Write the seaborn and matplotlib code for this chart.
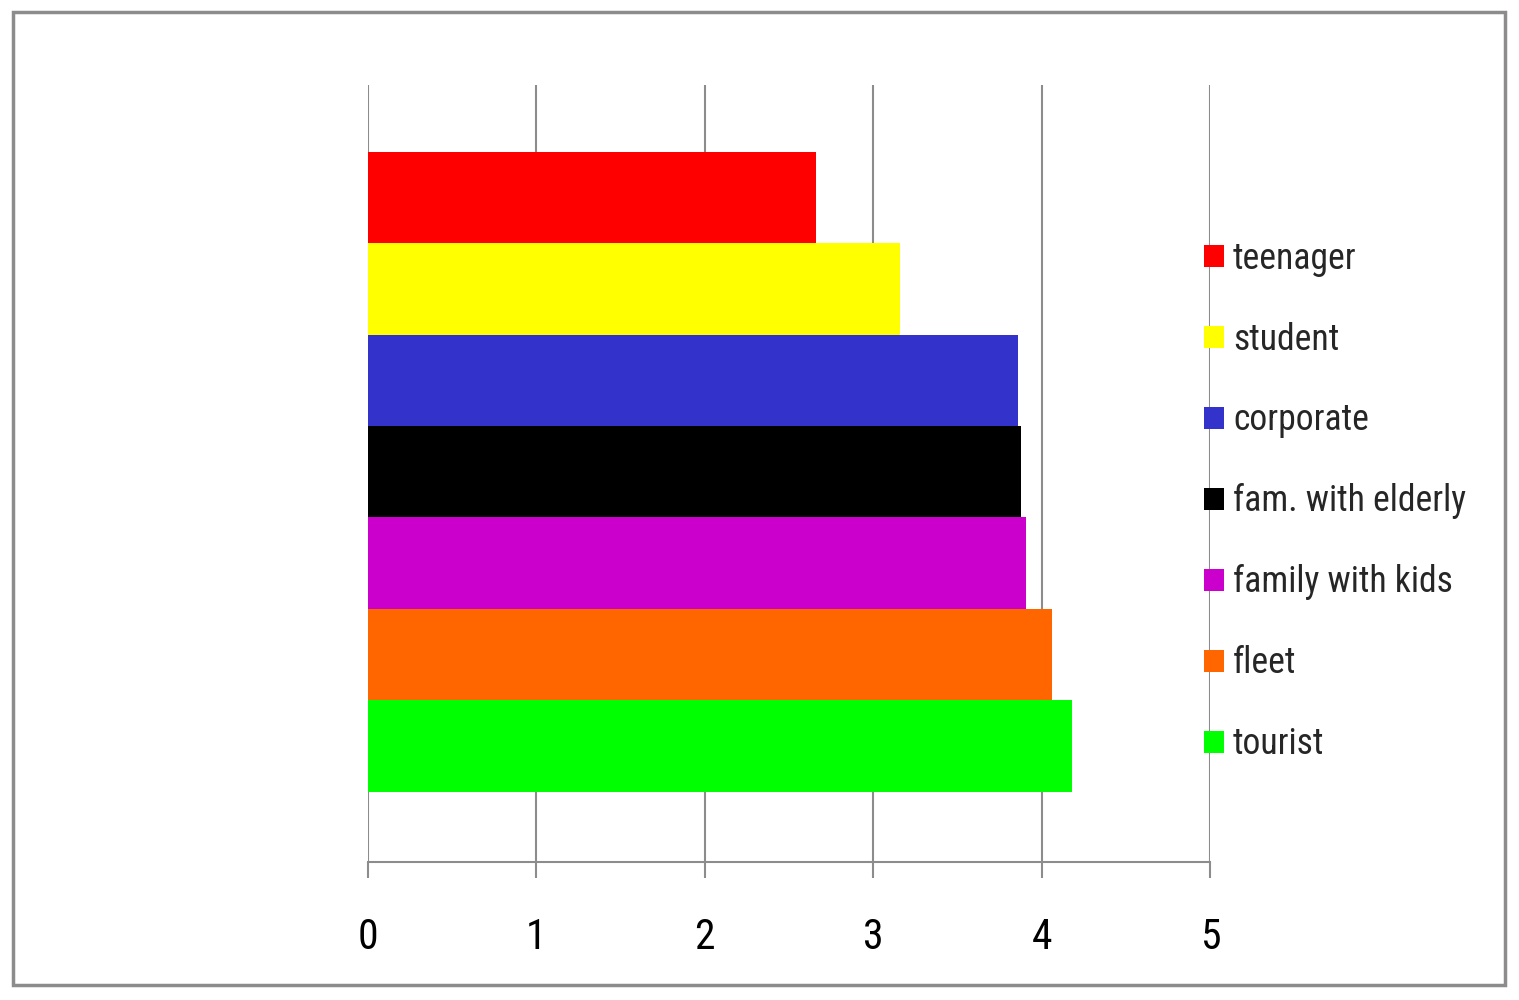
import matplotlib
matplotlib.use("Agg")
import matplotlib.pyplot as plt
from matplotlib import font_manager
from matplotlib.patches import Patch, Rectangle
import seaborn as sns
import pandas as pd

# Data
segments = ['teenager', 'student', 'corporate', 'fam. with elderly',
            'family with kids', 'fleet', 'tourist']
scores = [2.66, 3.16, 3.86, 3.88, 3.91, 4.06, 4.18]
colors = ['#FF0000', '#FFFF00', '#3333CC', '#000000', '#CC00CC', '#FF6600', '#00FF00']
xticks = [0, 1, 2, 3, 4, 5]

sns.set_style('white')
names = {f.name for f in font_manager.fontManager.ttflist}
font = next((f for f in ['Liberation Sans Narrow', 'Roboto Condensed', 'Liberation Sans']
             if f in names), 'DejaVu Sans')
plt.rcParams['font.family'] = [font, 'DejaVu Sans']

df = pd.DataFrame({'segment': segments, 'score': scores})

fig = plt.figure(figsize=(15.19, 10), dpi=100)
ax = fig.add_axes([368 / 1519, 1 - 862 / 1000, (1210 - 368) / 1519, (862 - 85) / 1000])

sns.barplot(data=df, y='segment', x='score', hue='segment', palette=colors,
            order=segments, hue_order=segments, width=1.0, dodge=False,
            legend=False, saturation=1, linewidth=0, edgecolor='none',
            ax=ax, zorder=3)

grid_c = '#8c8c8c'
ax.set_xlim(0, 5)
ax.set_ylim(6.5 + 0.77, -0.5 - 0.73)
ax.set_xticks(xticks)
ax.set_xticklabels([str(t) for t in xticks])
ax.set_yticks([])
ax.set_xlabel('')
ax.set_ylabel('')
ax.grid(axis='x', color=grid_c, linewidth=1.5, zorder=0)
ax.set_axisbelow(True)
for s in ['top', 'right', 'left']:
    ax.spines[s].set_visible(False)
ax.spines['bottom'].set_color(grid_c)
ax.spines['bottom'].set_linewidth(1.5)
ax.tick_params(axis='x', direction='out', length=11.5, width=1.5, color=grid_c,
               pad=28, labelsize=30, labelcolor='black', bottom=True)

handles = [Patch(facecolor=c, edgecolor='none', label=l) for c, l in zip(colors, segments)]
leg = ax.legend(handles=handles, loc='center left', bbox_to_anchor=(0.993, 0.464),
                frameon=False, fontsize=25.7, handlelength=0.56, handleheight=0.56,
                handletextpad=0.25, labelspacing=1.26, borderaxespad=0, borderpad=0)

# grey frame around the whole picture
fig.patches.append(Rectangle((13 / 1519, 1 - 985 / 1000), (1505 - 13) / 1519, (985 - 12) / 1000,
                             transform=fig.transFigure, fill=False, edgecolor='#8c8c8c',
                             linewidth=2.5))

fig.savefig('out.png', dpi=100)
